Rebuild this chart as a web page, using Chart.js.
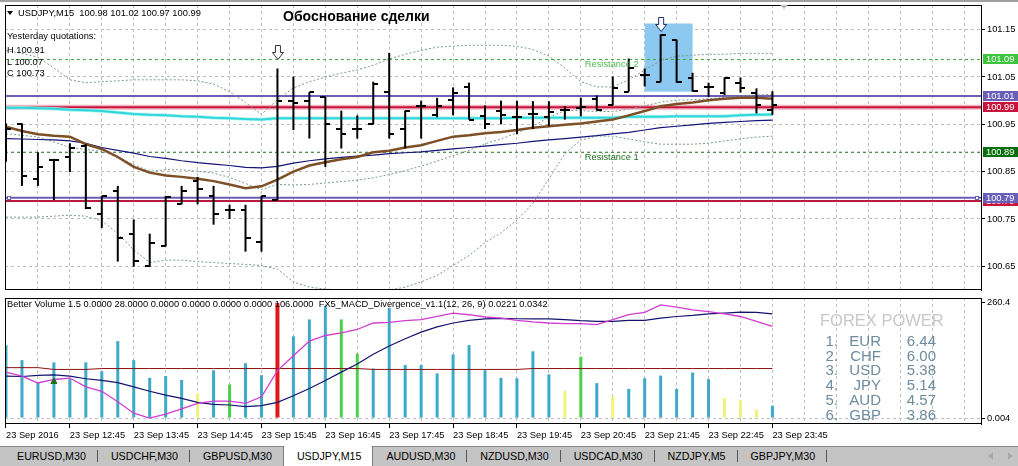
<!DOCTYPE html>
<html>
<head>
<meta charset="utf-8">
<title>USDJPY,M15</title>
<script src="https://cdn.jsdelivr.net/npm/chart.js@4.4.1/dist/chart.umd.min.js"></script>
<style>
  html, body { margin: 0; padding: 0; }
  body { width: 1018px; height: 466px; overflow: hidden; background: #fff; position: relative;
         font-family: "Liberation Sans", Arial, sans-serif; }
  canvas { position: absolute; left: 0; }
  #main { top: 0; }
  #sub { top: 293px; }
  .txt { position: absolute; white-space: pre; font-size: 9.3px; line-height: 1; color: #000; }
  #topbar { position: absolute; left: 0; top: 0; width: 1018px; height: 2px; background: #a0a0a0; }
  #menuTri { position: absolute; left: 7px; top: 11px; width: 0; height: 0;
             border-left: 3px solid transparent; border-right: 3px solid transparent; border-top: 4px solid #000; }
  #shiftTri { position: absolute; left: 780px; top: 5px; width: 0; height: 0;
              border-left: 4px solid transparent; border-right: 4px solid transparent; border-top: 4px solid #b8b8b8; }
  #title { position: absolute; left: 283px; top: 9px; font-size: 14px; font-weight: bold; line-height: 1; white-space: pre; }
  .fp { position: absolute; white-space: pre; line-height: 1; font-size: 15px; color: #6e8ca0; }
  #tabs { position: absolute; left: 0; top: 446px; width: 1018px; height: 20px; background: #c4c4c4;
          border-top: 1px solid #8a8a8a; box-sizing: border-box; display: flex; padding-left: 4px; }
  .tab { height: 19px; font-size: 10.7px; line-height: 18px; padding: 0 11px 0 13px; white-space: pre; color: #000;
         position: relative; }
  .sep { width: 1px; height: 12px; margin-top: 3px; background: #555; }
  .tab.on { background: #fff; margin-top: -1px; height: 20px; line-height: 20px;
            border-left: 1px solid #7a7a7a; border-right: 1px solid #7a7a7a; }
  .arr { position: absolute; top: 452px; width: 0; height: 0; border-top: 4px solid transparent; border-bottom: 4px solid transparent; }
</style>
</head>
<body>
<div id="topbar"></div>
<canvas id="main" width="1018" height="295"></canvas>
<canvas id="sub" width="1018" height="153"></canvas>

<div id="menuTri"></div>
<div id="shiftTri"></div>
<div class="txt" style="left:18px;top:8.6px">USDJPY,M15  100.98 101.02 100.97 100.99</div>
<div id="title">Обоснование сделки</div>
<div class="txt" style="left:7px;top:32.3px">Yesterday quotations:</div>
<div class="txt" style="left:7px;top:46.1px">H 100.91</div>
<div class="txt" style="left:7px;top:57.8px">L 100.07</div>
<div class="txt" style="left:7px;top:69.4px">C 100.73</div>
<div class="txt" style="left:7px;top:300.1px">Better Volume 1.5 0.0000 28.0000 0.0000 0.0000 0.0000 0.0000 106.0000  FX5_MACD_Divergence_v1.1(12, 26, 9) 0.0221 0.0342</div>
<div id="fpBox"></div>
<div id="tabs"></div>
<div class="arr" style="left:988px;border-right:5px solid #a8a8a8"></div>
<div class="arr" style="left:1008px;border-left:5px solid #a8a8a8"></div>

<script>
// ---- chart data ----
const timeLabels = ['23 Sep 2016', '23 Sep 12:45', '23 Sep 13:45', '23 Sep 14:45', '23 Sep 15:45',
  '23 Sep 16:45', '23 Sep 17:45', '23 Sep 18:45', '23 Sep 19:45', '23 Sep 20:45',
  '23 Sep 21:45', '23 Sep 22:45', '23 Sep 23:45'];

const opens = [100.950, 100.950, 100.834, 100.874, 100.880, 100.905, 100.761, 100.810, 100.719, 100.651,
  100.692, 100.782, 100.830, 100.799, 100.770, 100.770, 100.701, 100.790, 101.000, 101.000,
  101.008, 100.940, 100.941, 100.950, 101.018, 100.940, 100.988, 100.969, 101.002, 101.028,
  100.967, 100.979, 100.965, 100.971, 100.965, 100.980, 100.985, 101.003, 100.990, 101.019,
  101.054, 101.040, 101.129, 101.047, 101.029, 101.016, 101.037, 101.016, 100.980];
const highs = [100.952, 100.952, 100.891, 100.877, 100.910, 100.908, 100.799, 100.820, 100.749, 100.719,
  100.799, 100.820, 100.839, 100.820, 100.780, 100.780, 100.799, 101.068, 101.051, 101.018,
  101.008, 100.979, 100.969, 101.040, 101.101, 100.979, 101.000, 101.006, 101.028, 101.038,
  100.990, 101.000, 101.000, 100.999, 100.999, 100.988, 101.006, 101.011, 101.051, 101.089,
  101.068, 101.140, 101.129, 101.059, 101.038, 101.049, 101.049, 101.026, 101.020];
const lows = [100.871, 100.820, 100.820, 100.790, 100.849, 100.771, 100.731, 100.660, 100.649, 100.649,
  100.692, 100.781, 100.781, 100.738, 100.750, 100.681, 100.681, 100.790, 100.938, 100.920,
  100.860, 100.899, 100.920, 100.950, 100.920, 100.899, 100.920, 100.965, 100.969, 100.960,
  100.940, 100.950, 100.929, 100.940, 100.946, 100.960, 100.967, 100.979, 100.990, 101.019,
  101.030, 101.040, 101.038, 101.019, 101.008, 101.012, 101.017, 100.973, 100.970];
const closes = [100.940, 100.841, 100.860, 100.874, 100.899, 100.773, 100.799, 100.710, 100.662, 100.699,
  100.797, 100.809, 100.814, 100.760, 100.770, 100.710, 100.799, 101.000, 100.995, 101.018,
  100.950, 100.929, 100.941, 101.035, 100.929, 100.979, 100.988, 100.988, 101.017, 100.960,
  100.950, 100.970, 100.965, 100.971, 100.975, 100.980, 100.987, 100.981, 101.026, 101.070,
  101.054, 101.138, 101.040, 101.020, 101.029, 101.047, 101.026, 100.990, 100.990];

// moving averages
const maBrown = [100.945, 100.936, 100.929, 100.926, 100.924, 100.908, 100.898, 100.881, 100.860, 100.848,
  100.842, 100.839, 100.835, 100.830, 100.823, 100.815, 100.819, 100.833, 100.850, 100.863,
  100.870, 100.876, 100.881, 100.891, 100.894, 100.901, 100.906, 100.915, 100.924, 100.927,
  100.931, 100.934, 100.938, 100.943, 100.946, 100.949, 100.952, 100.956, 100.960, 100.969,
  100.978, 100.988, 100.993, 100.996, 101.001, 101.004, 101.006, 101.006, 101.004];
const maNavy = [100.920, 100.919, 100.918, 100.917, 100.915, 100.910, 100.901, 100.895, 100.889, 100.882,
  100.878, 100.873, 100.869, 100.866, 100.863, 100.859, 100.858, 100.861, 100.868, 100.873,
  100.877, 100.880, 100.883, 100.885, 100.888, 100.890, 100.892, 100.895, 100.898, 100.901,
  100.904, 100.907, 100.910, 100.914, 100.917, 100.920, 100.923, 100.926, 100.930, 100.933,
  100.938, 100.943, 100.946, 100.949, 100.952, 100.954, 100.956, 100.958, 100.959];
const maCyan = [100.985, 100.985, 100.984, 100.983, 100.981, 100.980, 100.978, 100.975, 100.972, 100.970,
  100.969, 100.967, 100.966, 100.964, 100.963, 100.961, 100.960, 100.963, 100.963, 100.963,
  100.963, 100.963, 100.963, 100.963, 100.963, 100.963, 100.963, 100.963, 100.963, 100.963,
  100.963, 100.963, 100.964, 100.964, 100.964, 100.964, 100.964, 100.964, 100.964, 100.966,
  100.966, 100.966, 100.967, 100.967, 100.967, 100.967, 100.969, 100.970, 100.971];

// bollinger bands (dotted)
const bbUpper = [101.106, 101.100, 101.092, 101.069, 101.044, 101.038, 101.040, 101.042, 101.044, 101.044,
  101.044, 101.044, 101.042, 101.035, 101.019, 100.996, 100.971, 101.002, 101.027, 101.040,
  101.050, 101.058, 101.065, 101.075, 101.088, 101.098, 101.106, 101.113, 101.115, 101.117,
  101.117, 101.117, 101.115, 101.108, 101.094, 101.069, 101.040, 101.029, 101.029, 101.044,
  101.065, 101.085, 101.094, 101.096, 101.098, 101.098, 101.100, 101.100, 101.100];
const bbMiddle = [100.930, 100.927, 100.923, 100.913, 100.901, 100.897, 100.893, 100.881, 100.865, 100.851,
  100.854, 100.854, 100.851, 100.847, 100.838, 100.825, 100.812, 100.823, 100.822, 100.823,
  100.826, 100.829, 100.832, 100.837, 100.844, 100.852, 100.862, 100.872, 100.884, 100.895,
  100.909, 100.919, 100.932, 100.946, 100.965, 100.979, 100.979, 100.977, 100.977, 100.982,
  100.989, 100.997, 101.001, 101.002, 101.004, 101.007, 101.010, 101.012, 101.013];
const bbLower = [100.754, 100.754, 100.754, 100.756, 100.758, 100.756, 100.746, 100.719, 100.685, 100.658,
  100.663, 100.663, 100.660, 100.658, 100.656, 100.654, 100.652, 100.644, 100.617, 100.606,
  100.602, 100.600, 100.598, 100.598, 100.600, 100.606, 100.617, 100.631, 100.652, 100.673,
  100.700, 100.721, 100.748, 100.783, 100.835, 100.888, 100.917, 100.925, 100.925, 100.919,
  100.913, 100.908, 100.908, 100.908, 100.910, 100.915, 100.919, 100.923, 100.925];

const priceTicks = [101.15, 101.05, 100.95, 100.85, 100.75, 100.65];

// horizontal objects on the price chart
const purpleLevels = [101.01, 100.795];
const redLevels = [100.986, 100.788];
const resistLevels = [101.087, 100.891];
const resistNames = ['Resistance 2', 'Resistance 1'];
const tagPrices = [101.087, 101.01, 100.986, 100.891, 100.788, 100.795];
const tagTexts = ['101.09', '101.01', '100.99', '100.89', '100.79', '100.79'];
const tagColors = ['#3cc43c', '#6a5fb8', '#c8143c', '#0a6e0a', '#c8143c', '#6a5fb8'];
const arrowBars = [17, 41];
const arrowTips = [101.0875, 101.148];
const highlight = { bars: [40, 43], prices: [101.163, 101.019] };

// sub window: Better Volume + MACD
const volumes = [165, 131, 81, 126, 88, 126, 106, 174, 131, 91,
  95, 86, 56, 108, 76, 124, 97, 260, 185, 223,
  254, 223, 146, 112, 249, 120, 120, 101, 144, 165,
  108, 91, 90, 151, 99, 61, 139, 79, 49, 66,
  90, 96, 66, 103, 88, 45, 40, 19, 28];
const volKinds = ['c', 'c', 'c', 'c', 'c', 'c', 'c', 'c', 'c', 'c',
  'c', 'c', 'y', 'c', 'g', 'c', 'c', 'r', 'c', 'c',
  'c', 'g', 'g', 'c', 'c', 'c', 'c', 'c', 'c', 'c',
  'c', 'c', 'c', 'c', 'c', 'y', 'g', 'c', 'y', 'c',
  'c', 'c', 'c', 'c', 'c', 'y', 'y', 'y', 'c'];
const volAvg = [114, 114, 114, 110, 110, 110, 112, 112, 112, 112,
  112, 112, 112, 112, 112, 112, 112, 112, 112, 112,
  112, 112, 112, 110, 110, 110, 110, 110, 110, 110,
  110, 110, 110, 112, 112, 112, 112, 112, 112, 112,
  112, 112, 112, 112, 112, 112, 112, 112, 112];
const macdMain = [-0.0223, -0.0261, -0.0328, -0.0294, -0.0280, -0.0366, -0.0408, -0.0509, -0.0620, -0.0668,
  -0.0630, -0.0579, -0.0525, -0.0503, -0.0503, -0.0525, -0.0461, -0.0208, -0.0065, 0.0078,
  0.0132, 0.0158, 0.0190, 0.0253, 0.0259, 0.0275, 0.0285, 0.0316, 0.0349, 0.0333,
  0.0311, 0.0301, 0.0278, 0.0263, 0.0253, 0.0247, 0.0247, 0.0237, 0.0285, 0.0333,
  0.0355, 0.0428, 0.0406, 0.0380, 0.0364, 0.0342, 0.0316, 0.0269, 0.0221];
const macdSignal = [-0.0261, -0.0265, -0.0255, -0.0249, -0.0261, -0.0287, -0.0303, -0.0325, -0.0366, -0.0408,
  -0.0446, -0.0477, -0.0516, -0.0535, -0.0541, -0.0557, -0.0547, -0.0516, -0.0452, -0.0382,
  -0.0303, -0.0223, -0.0144, -0.0049, 0.0030, 0.0101, 0.0164, 0.0215, 0.0253, 0.0278,
  0.0292, 0.0297, 0.0294, 0.0292, 0.0292, 0.0285, 0.0275, 0.0269, 0.0269, 0.0278,
  0.0278, 0.0301, 0.0316, 0.0326, 0.0342, 0.0349, 0.0358, 0.0355, 0.0342];
const divArrow = { bar: 3, value: -0.0315 };
const volTicks = [260.4, 0];
const volTickLabels = ['260.4', '0.004'];

const fpCurrencies = ['EUR', 'CHF', 'USD', 'JPY', 'AUD', 'GBP'];
const fpValues = ['6.44', '6.00', '5.38', '5.14', '4.57', '3.86'];

const tabNames = ['EURUSD,M30', 'USDCHF,M30', 'GBPUSD,M30', 'USDJPY,M15', 'AUDUSD,M30',
  'NZDUSD,M30', 'USDCAD,M30', 'NZDJPY,M5', 'GBPJPY,M30'];
const activeTab = 'USDJPY,M15';

// ---- helpers ----
Chart.defaults.font.family = '"Liberation Sans", Arial, sans-serif';
Chart.defaults.font.size = 9.3;
Chart.defaults.color = '#000';

const xMin = -0.0625, xMax = 61.0625;   // 16 px per bar, bar 0 one px inside the frame
const gridBars = [];
for (let k = 0; k <= 60; k += 2) gridBars.push(k);

const pts = arr => arr.map((v, i) => ({ x: i, y: v }));
const hline = v => [{ x: xMin, y: v }, { x: xMax, y: v }];
const volColor = { c: '#3fa9c9', y: '#f2f27a', g: '#4cd04c', r: '#e01818' };

function line(data, color, width, order, dash, yAxisID) {
  return { type: 'line', data: data, borderColor: color, borderWidth: width, borderDash: dash || [],
    pointRadius: 0, tension: 0, order: order, yAxisID: yAxisID || 'y' };
}

// open/close ticks as point images
function tickImage(side) {
  const c = document.createElement('canvas');
  c.width = 10; c.height = 2;
  const g = c.getContext('2d');
  g.fillStyle = '#000';
  g.fillRect(side < 0 ? 0 : 5, 0, 5, 2);
  return c;
}

const gridColor = '#bdbdbd';

const frame = {
  id: 'frame',
  afterDatasetsDraw(chart) {
    const a = chart.chartArea, ctx = chart.ctx;
    ctx.save();
    ctx.strokeStyle = '#000';
    ctx.lineWidth = 1;
    ctx.strokeRect(a.left + 0.5, a.top + 0.5, a.right - a.left, a.bottom - a.top - 1);
    ctx.restore();
  }
};

function drawDownArrow(ctx, cx, tipY, color) {
  ctx.beginPath();
  ctx.moveTo(cx - 2.5, tipY - 14);
  ctx.lineTo(cx + 2.5, tipY - 14);
  ctx.lineTo(cx + 2.5, tipY - 7);
  ctx.lineTo(cx + 5.5, tipY - 7);
  ctx.lineTo(cx, tipY);
  ctx.lineTo(cx - 5.5, tipY - 7);
  ctx.lineTo(cx - 2.5, tipY - 7);
  ctx.closePath();
  ctx.fillStyle = '#fff';
  ctx.fill();
  ctx.strokeStyle = color;
  ctx.lineWidth = 1;
  ctx.stroke();
}

const mainDecor = {
  id: 'mainDecor',
  beforeDatasetsDraw(chart) {
    const { ctx, scales: { x, y } } = chart;
    const x1 = x.getPixelForValue(highlight.bars[0]), x2 = x.getPixelForValue(highlight.bars[1]);
    const y1 = y.getPixelForValue(highlight.prices[0]), y2 = y.getPixelForValue(highlight.prices[1]);
    ctx.save();
    ctx.fillStyle = '#8cc8f0';
    ctx.fillRect(x1, y1, x2 - x1, y2 - y1);
    ctx.restore();
  },
  afterDatasetsDraw(chart) {
    const { ctx, scales: { x, y } } = chart;
    ctx.save();
    arrowBars.forEach((b, i) => {
      drawDownArrow(ctx, x.getPixelForValue(b) + 0.5, Math.round(y.getPixelForValue(arrowTips[i])) + 0.5,
        i === 0 ? '#333' : '#1c2f78');
    });
    ctx.font = '9.3px "Liberation Sans", Arial, sans-serif';
    ctx.textBaseline = 'alphabetic';
    ctx.textAlign = 'left';
    ['#4cb84c', '#1f6b1f'].forEach((c, i) => {
      ctx.fillStyle = c;
      ctx.fillText(resistNames[i], x.getPixelForValue(36.25), y.getPixelForValue(resistLevels[i]) + 8);
    });
    // anchor squares of the lower trend line
    const py = Math.round(y.getPixelForValue(purpleLevels[1]));
    ctx.strokeStyle = '#6a5fb8';
    ctx.fillStyle = '#fff';
    [chart.chartArea.left + 2, chart.chartArea.right - 6].forEach(sx => {
      ctx.fillRect(sx, py - 2, 4, 4);
      ctx.strokeRect(sx + 0.5, py - 1.5, 3, 3);
    });
    ctx.restore();
  },
  afterDraw(chart) {
    const { ctx, scales: { y } } = chart;
    ctx.save();
    ctx.font = '9.3px "Liberation Sans", Arial, sans-serif';
    ctx.textBaseline = 'middle';
    ctx.textAlign = 'left';
    tagPrices.forEach((p, i) => {
      const cy = Math.round(y.getPixelForValue(p));
      ctx.fillStyle = tagColors[i];
      ctx.fillRect(983, cy - 5, 35, 10);
      ctx.fillStyle = '#fff';
      ctx.fillText(tagTexts[i], 986, cy + 0.5);
    });
    ctx.restore();
  }
};

// ---- price chart ----
new Chart(document.getElementById('main'), {
  type: 'bar',
  data: {
    datasets: [
      { type: 'bar', data: lows.map((l, i) => ({ x: i, y: [l, highs[i]] })), backgroundColor: '#000',
        barThickness: 2, grouped: false, inflateAmount: 0, order: 0 },
      { type: 'scatter', data: pts(opens), pointStyle: tickImage(-1), pointRadius: 3, order: 0 },
      { type: 'scatter', data: pts(closes), pointStyle: tickImage(1), pointRadius: 3, order: 0 },
      line(pts(maBrown), '#7d4f27', 2.5, 1),
      line(pts(maNavy), '#14147a', 1.2, 1),
      line(pts(maCyan), '#2fd8d8', 2, 1),
      line(pts(maCyan), 'rgba(160,240,240,0.9)', 3.5, 1),
      line(pts(bbUpper), '#7a9a8a', 1, 3, [2, 2]),
      line(pts(bbMiddle), '#7a9a8a', 1, 3, [2, 2]),
      line(pts(bbLower), '#7a9a8a', 1, 3, [2, 2]),
      line(hline(purpleLevels[0]), '#6a5fb8', 2, 4),
      line(hline(purpleLevels[1]), '#6a5fb8', 2, 4),
      line(hline(redLevels[0]), '#c8143c', 2, 4),
      line(hline(redLevels[0]), 'rgba(240,160,175,0.8)', 5, 4),
      line(hline(redLevels[1]), '#b81a40', 2, 4),
      line(hline(resistLevels[0]), '#44aa44', 1, 5, [3, 3]),
      line(hline(resistLevels[1]), '#206a20', 1, 5, [3, 3])
    ]
  },
  options: {
    responsive: false, animation: false, devicePixelRatio: 1, events: [],
    layout: { padding: { left: 3, right: 0, top: 4, bottom: 2 } },
    plugins: { legend: { display: false }, tooltip: { enabled: false } },
    scales: {
      x: {
        type: 'linear', min: xMin, max: xMax, offset: false,
        afterBuildTicks: s => { s.ticks = gridBars.map(v => ({ value: v })); },
        afterFit: s => { s.height = 0; s.paddingLeft = 0; s.paddingRight = 0; },
        ticks: { display: false },
        grid: { color: gridColor, drawTicks: false, offset: false },
        border: { display: false, dash: [3, 3] }
      },
      y: {
        type: 'linear', position: 'right', min: 100.60, max: 101.2021,
        afterBuildTicks: s => { s.ticks = priceTicks.map(v => ({ value: v })); },
        afterFit: s => { s.width = 37; s.paddingTop = 0; s.paddingBottom = 0; },
        ticks: { padding: 2, callback: v => v.toFixed(2) },
        grid: { color: gridColor, tickColor: '#000', tickLength: 4, tickBorderDash: [] },
        border: { display: true, color: '#000', dash: [3, 3] }
      }
    }
  },
  plugins: [frame, mainDecor]
});

// ---- volume / MACD window ----
new Chart(document.getElementById('sub'), {
  type: 'bar',
  data: {
    datasets: [
      { type: 'scatter', yAxisID: 'm', data: [{ x: divArrow.bar, y: divArrow.value }], pointStyle: 'triangle',
        pointRadius: 3.5, backgroundColor: '#1d6b1d', borderColor: '#1d6b1d', order: 0 },
      line(pts(macdMain), '#d03cd0', 1.3, 1, [], 'm'),
      line(pts(macdSignal), '#14146e', 1.2, 1, [], 'm'),
      line(pts(volAvg), '#8b1010', 1, 2),
      { type: 'bar', yAxisID: 'y', data: volumes.map((v, i) => ({ x: i, y: volKinds[i] === 'r' ? null : v })),
        backgroundColor: volKinds.map(k => volColor[k]), barThickness: 3, grouped: false, inflateAmount: 0, order: 3 },
      { type: 'bar', yAxisID: 'y', data: volumes.map((v, i) => ({ x: i, y: volKinds[i] === 'r' ? v : null })),
        backgroundColor: volColor.r, barThickness: 4, grouped: false, inflateAmount: 0, order: 3 }
    ]
  },
  options: {
    responsive: false, animation: false, devicePixelRatio: 1, events: [],
    layout: { padding: { left: 3, right: 0, top: 3, bottom: 0 } },
    plugins: { legend: { display: false }, tooltip: { enabled: false } },
    scales: {
      x: {
        type: 'linear', min: xMin, max: xMax, offset: false, position: 'bottom',
        afterBuildTicks: s => { s.ticks = gridBars.map(v => ({ value: v })); },
        afterFit: s => { s.height = 22; s.paddingLeft = 0; s.paddingRight = 0; },
        ticks: {
          align: 'start', maxRotation: 0, minRotation: 0, autoSkip: false, padding: 2,
          callback: v => { const j = v / 4; return (Number.isInteger(j) && j < timeLabels.length) ? timeLabels[j] : ''; }
        },
        grid: {
          color: gridColor, offset: false, tickLength: 4, tickBorderDash: [],
          tickColor: c => (c.tick && c.tick.value % 4 === 0 && c.tick.value / 4 < timeLabels.length) ? '#000' : 'rgba(0,0,0,0)'
        },
        border: { display: false, dash: [3, 3] }
      },
      y: {
        type: 'linear', position: 'right', min: -13.4, max: 271.5,
        afterBuildTicks: s => { s.ticks = volTicks.map(v => ({ value: v })); },
        afterFit: s => { s.width = 37; s.paddingTop = 0; s.paddingBottom = 0; },
        ticks: { padding: 2, callback: (v, i) => volTickLabels[i] },
        grid: { color: c => (c.tick && c.tick.value === 0) ? gridColor : 'rgba(0,0,0,0)', tickColor: '#000', tickLength: 4 },
        border: { display: true, color: '#000', dash: [3, 3] }
      },
      m: { type: 'linear', display: false, min: -0.0725, max: 0.0495 }
    }
  },
  plugins: [frame]
});

// ---- FOREX POWER block ----
const fpBox = document.getElementById('fpBox');
const head = document.createElement('div');
head.className = 'fp';
head.style.cssText = 'left:820px;top:312.3px;font-size:16.5px;color:#c8c8c8';
head.textContent = 'FOREX POWER';
fpBox.appendChild(head);
fpCurrencies.forEach((cur, i) => {
  const top = 332.6 + i * 14.9;
  const cells = [[(i + 1) + '.', 838], [cur, 881], [fpValues[i], 936]];
  cells.forEach(([t, right]) => {
    const d = document.createElement('div');
    d.className = 'fp';
    d.style.cssText = 'right:' + (1018 - right) + 'px;top:' + top + 'px';
    d.textContent = t;
    fpBox.appendChild(d);
  });
});

// ---- symbol tabs ----
const tabs = document.getElementById('tabs');
tabNames.forEach((n, i) => {
  const t = document.createElement('div');
  t.className = 'tab' + (n === activeTab ? ' on' : '');
  t.textContent = n;
  tabs.appendChild(t);
  const next = tabNames[i + 1];
  if (n !== activeTab && next !== activeTab) {
    const s = document.createElement('div');
    s.className = 'sep';
    tabs.appendChild(s);
  }
});
</script>
</body>
</html>
